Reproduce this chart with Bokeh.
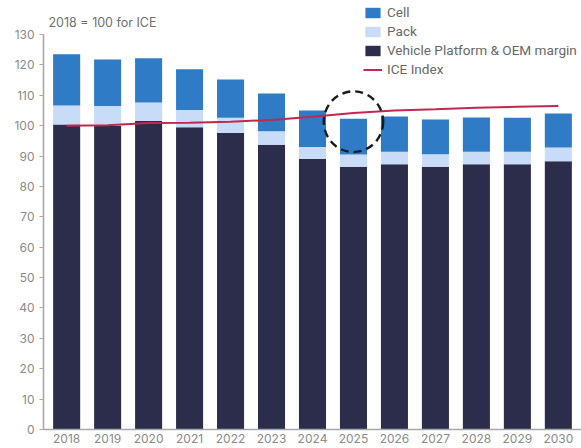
from bokeh.plotting import figure
from bokeh.models import (FactorRange, Range1d, Legend, LegendItem, Label,
                          ColumnDataSource, FixedTicker)
from bokeh.embed import file_html
from bokeh.resources import INLINE

years = ["2018", "2019", "2020", "2021", "2022", "2023", "2024",
         "2025", "2026", "2027", "2028", "2029", "2030"]
platform = [100.4, 99.9, 101.5, 99.5, 97.6, 93.7, 89.0, 86.5, 87.3, 86.5, 87.3, 87.3, 88.3]
pack = [6.2, 6.6, 6.1, 5.7, 5.0, 4.5, 4.0, 4.0, 4.1, 4.1, 4.1, 4.1, 4.5]
cell = [16.9, 15.3, 14.6, 13.4, 12.6, 12.4, 12.0, 11.8, 11.6, 11.4, 11.3, 11.2, 11.2]
ice_index = [100.0, 100.1, 100.9, 101.0, 101.3, 101.9, 102.9, 104.2, 105.0, 105.4, 105.9, 106.2, 106.5]
y_ticks = [0, 10, 20, 30, 40, 50, 60, 70, 80, 90, 100, 110, 120, 130]
highlight_year = "2025"
title_text = "2018 = 100 for ICE"

C_CELL = "#2F7BC5"
C_PACK = "#C8DBF7"
C_PLAT = "#2C2D4A"
C_ICE = "#C0284F"
TICK_FONT = "Inter"
LEG_FONT = "Roboto"

src = ColumnDataSource(dict(year=years, platform=platform, pack=pack, cell=cell, ice=ice_index))

p = figure(width=581, height=448, output_backend="svg", toolbar_location=None,
           x_range=FactorRange(*years, range_padding=0.01),
           y_range=Range1d(0, 141.2),
           min_border_left=43, min_border_right=0, min_border_top=0, min_border_bottom=19)
p.outline_line_color = None
p.xgrid.visible = False
p.ygrid.visible = False
p.background_fill_color = "white"

stack = p.vbar_stack(["platform", "pack", "cell"], x="year", width=0.66,
                     color=[C_PLAT, C_PACK, C_CELL], line_color=None, source=src)
line = p.line("year", "ice", source=src, line_color=C_ICE, line_width=2.0)

idx = years.index(highlight_year)
tot = platform[idx] + pack[idx] + cell[idx]
p.ellipse(x=[highlight_year], y=[tot - 1.0], width=1.45, height=20,
          fill_color=None, line_color="#1a1a1a", line_width=2.4, line_dash="8 5")

# axes
p.yaxis.ticker = FixedTicker(ticks=y_ticks)
p.yaxis.bounds = (0, 130)
for ax in (p.xaxis[0], p.yaxis[0]):
    ax.axis_line_color = "#a8a8a8"
    ax.axis_line_width = 1.6
    ax.major_label_text_font = TICK_FONT
    ax.major_label_text_font_size = "12px"
    ax.major_label_text_color = "#8a8a8a"
    ax.minor_tick_line_color = None
p.yaxis.major_tick_line_color = "#a8a8a8"
p.yaxis.major_tick_out = 4
p.yaxis.major_tick_in = 0
p.yaxis.major_label_standoff = 5
p.xaxis.major_tick_line_color = None
p.xaxis.major_tick_out = 0
p.xaxis.major_label_standoff = 4

p.add_layout(Label(x=5, y=407, x_units="screen", y_units="screen", text=title_text,
                   text_font=TICK_FONT, text_font_size="12.5px", text_color="#707070",
                   text_baseline="middle"))

legend = Legend(items=[
    LegendItem(label="Cell", renderers=[stack[2]]),
    LegendItem(label="Pack", renderers=[stack[1]]),
    LegendItem(label="Vehicle Platform & OEM margin", renderers=[stack[0]]),
    LegendItem(label="ICE Index", renderers=[line]),
], location=(320, 352))
legend.glyph_width = 19
legend.glyph_height = 13
legend.label_height = 13
legend.spacing = 3
legend.padding = 0
legend.margin = 0
legend.label_standoff = 5
legend.border_line_color = None
legend.background_fill_alpha = 0
legend.label_text_font = LEG_FONT
legend.label_text_font_size = "13.6px"
legend.label_text_color = "#686868"
p.add_layout(legend)

open("out.html", "w").write(file_html(p, INLINE))
